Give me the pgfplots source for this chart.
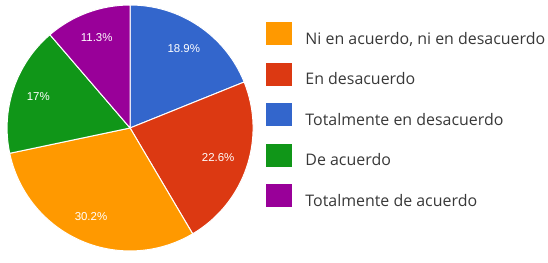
\documentclass[border=0pt]{standalone}
\usepackage{pgfplots}
\pgfplotsset{compat=1.18}
\usepackage{fontspec}
\setmainfont{Open Sans}
\newfontfamily\lblfont{Liberation Sans}
\definecolor{gblue}{HTML}{3366CC}
\definecolor{gred}{HTML}{DC3912}
\definecolor{gorange}{HTML}{FF9900}
\definecolor{ggreen}{HTML}{109618}
\definecolor{gpurple}{HTML}{990099}
\begin{document}
\begin{tikzpicture}
\begin{axis}[
  x=1bp, y=1bp, xmin=0, xmax=548, ymin=0, ymax=263,
  hide axis, clip=false,
  legend cell align=left,
  legend image code/.code={\fill[#1] (0bp,-5.5bp) rectangle (25bp,16.5bp);},
  legend style={at={(axis cs:266,240.5)}, anchor=north west, draw=none, fill=none,
    inner sep=0pt, outer sep=0pt, row sep=16.9bp,
    font=\fontsize{16}{19}\selectfont, text=black!78,
    nodes={inner sep=0pt, outer sep=0pt},
    /tikz/every odd column/.append style={column sep=14bp}},
]
\path (axis cs:0,0) rectangle (axis cs:548,263);
% Pie slices (values in percent, clockwise from 12 o'clock)
\addplot[forget plot, draw=white, line width=1bp, fill=gblue] coordinates {(130,135)}
  -- +(90:123bp) arc[start angle=90, delta angle={-18.9*3.6}, radius=123bp] -- cycle;
\addplot[forget plot, draw=white, line width=1bp, fill=gred] coordinates {(130,135)}
  -- +({90-18.9*3.6}:123bp) arc[start angle={90-18.9*3.6}, delta angle={-22.6*3.6}, radius=123bp] -- cycle;
\addplot[forget plot, draw=white, line width=1bp, fill=gorange] coordinates {(130,135)}
  -- +({90-41.5*3.6}:123bp) arc[start angle={90-41.5*3.6}, delta angle={-30.2*3.6}, radius=123bp] -- cycle;
\addplot[forget plot, draw=white, line width=1bp, fill=ggreen] coordinates {(130,135)}
  -- +({90-71.7*3.6}:123bp) arc[start angle={90-71.7*3.6}, delta angle={-17*3.6}, radius=123bp] -- cycle;
\addplot[forget plot, draw=white, line width=1bp, fill=gpurple] coordinates {(130,135)}
  -- +({90-88.7*3.6}:123bp) arc[start angle={90-88.7*3.6}, delta angle={-11.3*3.6}, radius=123bp] -- cycle;
% slice labels
\begin{scope}[every node/.style={font=\lblfont\fontsize{11.5}{13}\selectfont, text=white}]
\path (axis cs:130,135) ++({90-9.45*3.6}:96bp) node {18.9\%};
\path (axis cs:130,135) ++({90-30.2*3.6}:93bp) node {22.6\%};
\path (axis cs:130,135) ++({90-56.6*3.6}:97bp) node {30.2\%};
\path (axis cs:130,135) ++({90-80.2*3.6}:97bp) node {17\%};
\path (axis cs:130,135) ++({90-94.35*3.6}:96bp) node {11.3\%};
\end{scope}
% legend
\addlegendimage{gorange}\addlegendentry{Ni en acuerdo, ni en desacuerdo}
\addlegendimage{gred}\addlegendentry{En desacuerdo}
\addlegendimage{gblue}\addlegendentry{Totalmente en desacuerdo}
\addlegendimage{ggreen}\addlegendentry{De acuerdo}
\addlegendimage{gpurple}\addlegendentry{Totalmente de acuerdo}
\end{axis}
\end{tikzpicture}
\end{document}
